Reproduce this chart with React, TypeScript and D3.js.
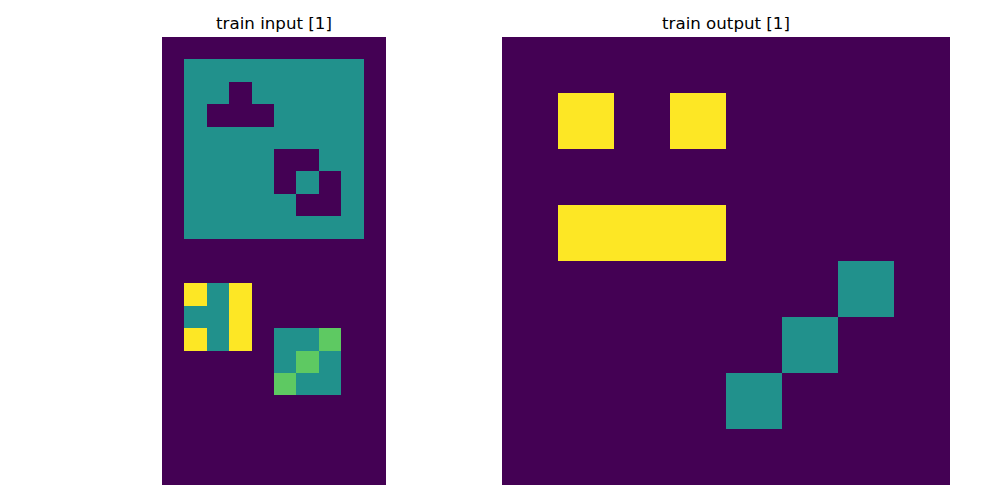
import React from "react";
import * as d3 from "d3";

const inputTitle = "train input [1]";
const outputTitle = "train output [1]";

const inputGrid: number[][] = [
  [0,0,0,0,0,0,0,0,0,0],
  [0,2,2,2,2,2,2,2,2,0],
  [0,2,2,0,2,2,2,2,2,0],
  [0,2,0,0,0,2,2,2,2,0],
  [0,2,2,2,2,2,2,2,2,0],
  [0,2,2,2,2,0,0,2,2,0],
  [0,2,2,2,2,0,2,0,2,0],
  [0,2,2,2,2,2,0,0,2,0],
  [0,2,2,2,2,2,2,2,2,0],
  [0,0,0,0,0,0,0,0,0,0],
  [0,0,0,0,0,0,0,0,0,0],
  [0,4,2,4,0,0,0,0,0,0],
  [0,2,2,4,0,0,0,0,0,0],
  [0,4,2,4,0,2,2,3,0,0],
  [0,0,0,0,0,2,3,2,0,0],
  [0,0,0,0,0,3,2,2,0,0],
  [0,0,0,0,0,0,0,0,0,0],
  [0,0,0,0,0,0,0,0,0,0],
  [0,0,0,0,0,0,0,0,0,0],
  [0,0,0,0,0,0,0,0,0,0],
];

const outputGrid: number[][] = [
  [0,0,0,0,0,0,0,0],
  [0,4,0,4,0,0,0,0],
  [0,0,0,0,0,0,0,0],
  [0,4,4,4,0,0,0,0],
  [0,0,0,0,0,0,2,0],
  [0,0,0,0,0,2,0,0],
  [0,0,0,0,2,0,0,0],
  [0,0,0,0,0,0,0,0],
];

const color = d3.scaleSequential(d3.interpolateViridis).domain([0, 4]);

function Grid({ grid, x0, y0, cell, title }: { grid: number[][]; x0: number; y0: number; cell: number; title: string }) {
  const rows = grid.length;
  const cols = grid[0].length;
  const xs = d3.scaleLinear().domain([0, cols]).range([x0, x0 + cols * cell]);
  const ys = d3.scaleLinear().domain([0, rows]).range([y0, y0 + rows * cell]);
  return (
    <g>
      {grid.map((row, r) =>
        row.map((v, c) => (
          <rect
            key={`${r}-${c}`}
            x={xs(c)}
            y={ys(r)}
            width={xs(c + 1) - xs(c) + 0.3}
            height={ys(r + 1) - ys(r) + 0.3}
            fill={color(v)}
            shapeRendering="crispEdges"
          />
        ))
      )}
      <text
        x={(xs(0) + xs(cols)) / 2}
        y={y0 - 8.5}
        textAnchor="middle"
        fontFamily="DejaVu Sans"
        fontSize={16.67}
        fill="#000"
      >
        {title}
      </text>
    </g>
  );
}

export default function App() {
  return (
    <svg
      width={1000}
      height={500}
      style={{ position: "absolute", left: 0, top: 0, background: "#fff" }}
    >
      <rect width={1000} height={500} fill="#fff" />
      <Grid grid={inputGrid} x0={162} y0={37} cell={22.4} title={inputTitle} />
      <Grid grid={outputGrid} x0={502} y0={37} cell={56} title={outputTitle} />
    </svg>
  );
}
